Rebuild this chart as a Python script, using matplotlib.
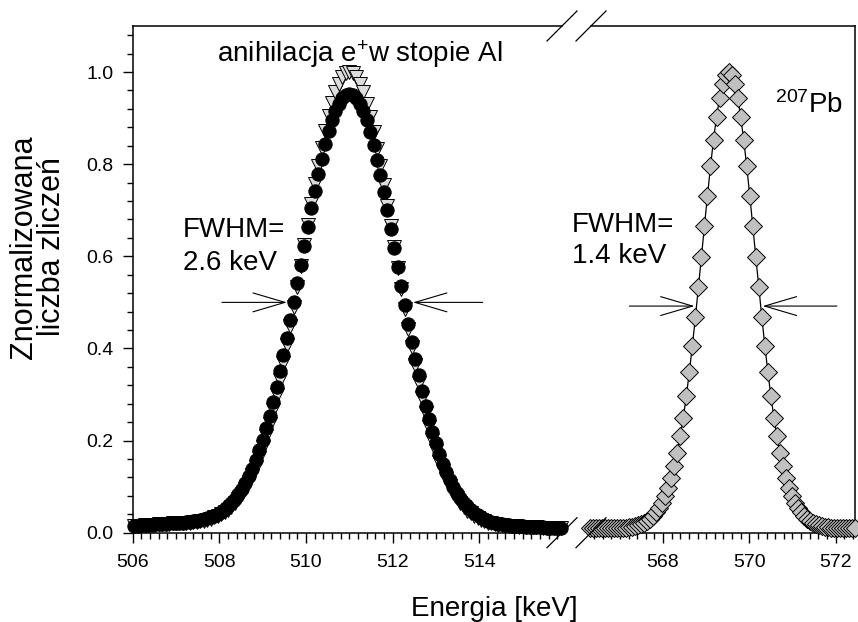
import numpy as np
import matplotlib
matplotlib.use('Agg')
import matplotlib.pyplot as plt
from matplotlib.ticker import MultipleLocator
from matplotlib.lines import Line2D

plt.rcParams['font.family'] = ['Liberation Sans', 'DejaVu Sans']
plt.rcParams['mathtext.fontset'] = 'custom'
plt.rcParams['mathtext.rm'] = 'Liberation Sans'
plt.rcParams['mathtext.it'] = 'Liberation Sans:italic'
plt.rcParams['mathtext.bf'] = 'Liberation Sans:bold'

# ---------------- data ----------------
# annihilation line in Al alloy: channel grid (keV)
al_start = 506.04
al_step = 0.08
# filled circles
al_circles = [
    0.015, 0.0155, 0.016, 0.0165, 0.017, 0.0175, 0.018, 0.0185, 0.019, 0.0195,
    0.020, 0.021, 0.021, 0.022, 0.022, 0.023, 0.024, 0.0245, 0.026, 0.027,
    0.029, 0.031, 0.034, 0.037, 0.041, 0.045, 0.051, 0.057, 0.065, 0.073,
    0.083, 0.095, 0.108, 0.123, 0.139, 0.158, 0.179, 0.202, 0.227, 0.254,
    0.284, 0.316, 0.350, 0.385, 0.422, 0.461, 0.500, 0.541, 0.582, 0.623,
    0.664, 0.704, 0.742, 0.778, 0.812, 0.843, 0.871, 0.896, 0.916, 0.931,
    0.943, 0.950,
    0.952,
    0.950, 0.943, 0.930, 0.915, 0.895, 0.870, 0.842, 0.810, 0.776, 0.739,
    0.700, 0.660, 0.619, 0.577, 0.536, 0.495, 0.454, 0.415, 0.378, 0.342,
    0.308, 0.276, 0.247, 0.219, 0.194, 0.171, 0.150, 0.132, 0.115, 0.100,
    0.087, 0.075, 0.065, 0.057, 0.049, 0.043, 0.038, 0.033, 0.029, 0.026,
    0.023, 0.021, 0.019, 0.018, 0.017, 0.016, 0.015, 0.0145, 0.014, 0.0135,
    0.013, 0.013, 0.0125, 0.012, 0.012, 0.0115, 0.011, 0.011, 0.0105, 0.010,
    0.010,
]
# open (light grey) down-triangles
al_triangles = [
    0.015, 0.015, 0.0155, 0.016, 0.0165, 0.017, 0.0175, 0.018, 0.0185, 0.019,
    0.0195, 0.020, 0.020, 0.021, 0.021, 0.022, 0.022, 0.023, 0.024, 0.025,
    0.026, 0.028, 0.030, 0.033, 0.036, 0.040, 0.044, 0.050, 0.056, 0.064,
    0.073, 0.083, 0.095, 0.109, 0.125, 0.142, 0.162, 0.185, 0.210, 0.236,
    0.266, 0.298, 0.332, 0.369, 0.408, 0.448, 0.491, 0.534, 0.579, 0.624,
    0.669, 0.713, 0.756, 0.797, 0.836, 0.871, 0.904, 0.932, 0.956, 0.975,
    0.989, 0.997,
    1.000,
    0.997, 0.989, 0.975, 0.956, 0.931, 0.903, 0.870, 0.834, 0.795, 0.754,
    0.710, 0.666, 0.620, 0.575, 0.530, 0.486, 0.443, 0.403, 0.364, 0.326,
    0.292, 0.259, 0.229, 0.202, 0.177, 0.154, 0.134, 0.117, 0.101, 0.087,
    0.075, 0.065, 0.056, 0.048, 0.042, 0.036, 0.032, 0.028, 0.025, 0.022,
    0.020, 0.018, 0.017, 0.016, 0.015, 0.0145, 0.014, 0.0135, 0.013, 0.013,
    0.0125, 0.012, 0.012, 0.0115, 0.011, 0.011, 0.0105, 0.0105, 0.010, 0.010,
    0.010,
]
# 207Pb line
pb_start = 566.30
pb_step = 0.07
pb_counts = [
    0.010, 0.010, 0.010, 0.010, 0.010, 0.010, 0.010, 0.010, 0.010, 0.010,
    0.010, 0.010, 0.011, 0.012, 0.013, 0.014, 0.016, 0.018, 0.021, 0.025,
    0.030, 0.036, 0.044, 0.053, 0.065, 0.080, 0.097, 0.118, 0.144, 0.174,
    0.209, 0.250, 0.297, 0.349, 0.406, 0.468, 0.533, 0.599, 0.666, 0.732,
    0.795, 0.853, 0.903, 0.944, 0.975, 0.994,
    1.000,
    0.994, 0.975, 0.944, 0.903, 0.853, 0.795, 0.732, 0.666, 0.599, 0.533,
    0.468, 0.406, 0.349, 0.297, 0.250, 0.209, 0.174, 0.144, 0.118, 0.097,
    0.080, 0.065, 0.053, 0.044, 0.036, 0.030, 0.025, 0.021, 0.018, 0.016,
    0.014, 0.013, 0.012, 0.011, 0.010, 0.010, 0.010, 0.010, 0.010, 0.010,
    0.010, 0.010,
]

left_ticks = [506, 508, 510, 512, 514]
right_ticks = [568, 570, 572]
y_ticks = [0.0, 0.2, 0.4, 0.6, 0.8, 1.0]

al_energy = al_start + al_step * np.arange(len(al_circles))
pb_energy = pb_start + pb_step * np.arange(len(pb_counts))

# ---------------- figure ----------------
W, H = 858, 622
fig = plt.figure(figsize=(W / 100, H / 100), dpi=100)

def fx(px):
    return px / W

def fy(py):
    return 1 - py / H

ax_l0, ax_r1, ax_top, ax_bot = 132.7, 562.0, 26.0, 532.7
axr_l0, axr_r1 = 591.0, 855.0
axL = fig.add_axes([fx(ax_l0), fy(ax_bot), (ax_r1 - ax_l0) / W, (ax_bot - ax_top) / H])
axR = fig.add_axes([fx(axr_l0), fy(ax_bot), (axr_r1 - axr_l0) / W, (ax_bot - ax_top) / H])

axL.plot(al_energy, al_triangles, linestyle='none', marker='v', ms=9.5,
         mfc='#dcdcdc', mec='black', mew=0.7, clip_on=False, zorder=3)
axL.plot(al_energy, al_circles, linestyle='none', marker='o', ms=9.6,
         mfc='black', mec='black', mew=0.7, clip_on=False, zorder=4)

axR.plot(pb_energy, pb_counts, color='black', lw=0.9, marker='D', ms=8.8,
         mfc='#c0c0c0', mec='black', mew=0.7, clip_on=False, zorder=3)

axL.set_xlim(506.0, 515.91)
axR.set_xlim(566.33, 572.45)
for ax in (axL, axR):
    ax.set_ylim(0, 1.1)
    for s in ax.spines.values():
        s.set_linewidth(1.1)
    ax.tick_params(which='both', direction='out', width=1.0, labelsize=14)
    ax.tick_params(axis='x', pad=8)
    ax.tick_params(which='major', length=7)
    ax.tick_params(which='minor', length=4)
    ax.xaxis.set_minor_locator(MultipleLocator(0.2))

axL.set_xticks(left_ticks)
axL.set_xticklabels([str(t) for t in left_ticks])
axL.set_yticks(y_ticks)
axL.set_yticklabels(['%.1f' % t for t in y_ticks])
axL.yaxis.set_minor_locator(MultipleLocator(0.04))
axL.spines['right'].set_visible(False)
axL.tick_params(axis='y', pad=7)

axR.set_xticks(right_ticks)
axR.set_xticklabels([str(t) for t in right_ticks])
axR.spines['left'].set_visible(False)
axR.tick_params(axis='y', which='both', left=False, labelleft=False)

# break marks
dxp, dyp = 15, 15
for (cx, cy) in [(ax_r1, ax_top), (ax_r1, ax_bot), (axr_l0, ax_top), (axr_l0, ax_bot)]:
    fig.add_artist(Line2D([fx(cx - dxp), fx(cx + dxp)], [fy(cy + dyp), fy(cy - dyp)],
                          transform=fig.transFigure, color='black', lw=0.9))

# FWHM arrows
astyle = dict(arrowstyle='->,head_length=2.3,head_width=0.68', lw=0.8,
              color='black', shrinkA=0, shrinkB=0, mutation_scale=10)
axL.annotate('', xy=(509.56, 0.50), xytext=(508.06, 0.50), arrowprops=astyle)
axL.annotate('', xy=(512.47, 0.50), xytext=(514.08, 0.50), arrowprops=astyle,
             annotation_clip=False)
axR.annotate('', xy=(568.73, 0.492), xytext=(567.22, 0.492), arrowprops=astyle)
axR.annotate('', xy=(570.31, 0.492), xytext=(572.03, 0.492), arrowprops=astyle)

# texts
fig.text(fx(360), fy(62), r'anihilacja e$^{+}$w stopie Al', fontsize=20,
         ha='center', va='baseline')
fig.text(fx(775), fy(113), r'$^{207}$Pb', fontsize=20, ha='left', va='baseline')
fig.text(fx(183), fy(237), 'FWHM=', fontsize=20, ha='left', va='baseline')
fig.text(fx(183), fy(270), '2.6 keV', fontsize=20, ha='left', va='baseline')
fig.text(fx(572), fy(232), 'FWHM=', fontsize=20, ha='left', va='baseline')
fig.text(fx(572), fy(263), '1.4 keV', fontsize=20, ha='left', va='baseline')

fig.text(fx(494), fy(616), 'Energia [keV]', fontsize=20, ha='center', va='baseline')
fig.text(fx(38), fy(247), 'Znormalizowana\nliczba zliczeń', fontsize=22,
         rotation=90, ha='center', va='center', multialignment='center',
         linespacing=0.95)

fig.savefig('out.png', dpi=100)
